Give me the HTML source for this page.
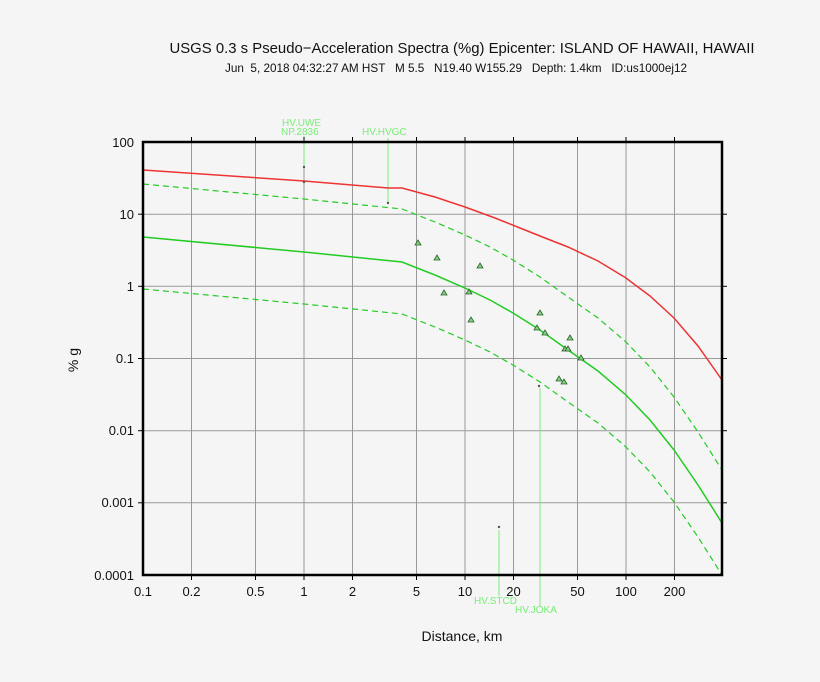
<!DOCTYPE html>
<html><head><meta charset="utf-8"><style>
body{margin:0;background:#f5f5f5;}
svg{display:block;font-family:"Liberation Sans",sans-serif;}
</style></head><body>
<svg width="820" height="682" viewBox="0 0 820 682">
<rect width="820" height="682" fill="#f5f5f5"/>
<text x="462" y="53" font-size="15" text-anchor="middle" fill="#111" textLength="585" lengthAdjust="spacingAndGlyphs">USGS 0.3 s Pseudo−Acceleration Spectra (%g) Epicenter: ISLAND OF HAWAII, HAWAII</text>
<text x="456" y="72" font-size="12" text-anchor="middle" fill="#111" style="white-space:pre" textLength="462" lengthAdjust="spacingAndGlyphs">Jun  5, 2018 04:32:27 AM HST   M 5.5   N19.40 W155.29   Depth: 1.4km   ID:us1000ej12</text>
<g stroke="#999" stroke-width="1">
<line x1="191.5" y1="142" x2="191.5" y2="575"/><line x1="255.5" y1="142" x2="255.5" y2="575"/>
<line x1="304" y1="142" x2="304" y2="575"/><line x1="352.5" y1="142" x2="352.5" y2="575"/>
<line x1="416.5" y1="142" x2="416.5" y2="575"/><line x1="465" y1="142" x2="465" y2="575"/>
<line x1="513.5" y1="142" x2="513.5" y2="575"/><line x1="577.5" y1="142" x2="577.5" y2="575"/>
<line x1="626" y1="142" x2="626" y2="575"/><line x1="674.5" y1="142" x2="674.5" y2="575"/>
<line x1="143" y1="214.2" x2="722" y2="214.2"/><line x1="143" y1="286.3" x2="722" y2="286.3"/>
<line x1="143" y1="358.5" x2="722" y2="358.5"/><line x1="143" y1="430.7" x2="722" y2="430.7"/>
<line x1="143" y1="502.8" x2="722" y2="502.8"/>
</g>
<g stroke="#7e7" stroke-width="1">
<line x1="304" y1="136" x2="304" y2="167"/><line x1="388" y1="138" x2="388" y2="203"/>
<line x1="499" y1="530" x2="499" y2="596"/><line x1="540" y1="388" x2="540" y2="606"/>
</g>
<g font-size="10" fill="#7e7">
<text x="282" y="126">HV.UWE</text><text x="281" y="135">NP.2836</text>
<text x="362" y="135">HV.HVGC</text>
<text x="474" y="604">HV.STCD</text><text x="515" y="613">HV.JOKA</text>
</g>
<polyline fill="none" stroke="#e33" stroke-width="1.5" points="143,170 304,181 388,188 402,188 435,197 465,207 495,218 520,228 545,238 568,247 598,261 626,278 650,296 674,318 698,346 722,380"/>
<polyline fill="none" stroke="#2c2" stroke-width="1.5" points="143,237 304,252 402,262 435,275 465,288 490,300 513,313 540,330 568,350 598,371 626,395 650,420 674,450 698,485 722,523"/>
<polyline fill="none" stroke="#2c2" stroke-width="1.2" stroke-dasharray="6,4" points="143,184 304,199 402,209 435,222 465,235 490,247 513,260 540,277 568,297 598,318 626,342 650,367 674,397 698,432 722,470"/>
<polyline fill="none" stroke="#2c2" stroke-width="1.2" stroke-dasharray="6,4" points="143,289 304,304 402,314 435,327 465,340 490,352 513,365 540,382 568,402 598,423 626,447 650,472 674,502 698,537 722,575"/>
<g fill="#8c8" stroke="#262" stroke-width="0.8">
<path d="M418,240l3,5h-6z"/><path d="M437,255l3,5h-6z"/><path d="M444,290l3,5h-6z"/>
<path d="M469,289l3,5h-6z"/><path d="M471,317l3,5h-6z"/><path d="M480,263l3,5h-6z"/>
<path d="M540,310l3,5h-6z"/><path d="M537,325l3,5h-6z"/><path d="M545,330l3,5h-6z"/>
<path d="M570,335l3,5h-6z"/><path d="M565,346l3,5h-6z"/><path d="M568,346l3,5h-6z"/>
<path d="M581,355l3,5h-6z"/><path d="M559,376l3,5h-6z"/><path d="M564,379l3,5h-6z"/>
</g>
<g fill="#555"><circle cx="304" cy="167" r="1.2"/><circle cx="304" cy="182" r="1.2"/><circle cx="388" cy="203" r="1.2"/><circle cx="499" cy="527" r="1.2"/><circle cx="539" cy="386" r="1.2"/></g>
<rect x="143" y="142" width="579" height="433" fill="none" stroke="#000" stroke-width="2.5"/>
<g stroke="#000" stroke-width="1">
<line x1="191.5" y1="137" x2="191.5" y2="142"/><line x1="255.5" y1="137" x2="255.5" y2="142"/><line x1="304" y1="137" x2="304" y2="142"/><line x1="352.5" y1="137" x2="352.5" y2="142"/><line x1="416.5" y1="137" x2="416.5" y2="142"/><line x1="465" y1="137" x2="465" y2="142"/><line x1="513.5" y1="137" x2="513.5" y2="142"/><line x1="577.5" y1="137" x2="577.5" y2="142"/><line x1="626" y1="137" x2="626" y2="142"/><line x1="674.5" y1="137" x2="674.5" y2="142"/>
<line x1="191.5" y1="575" x2="191.5" y2="580"/><line x1="255.5" y1="575" x2="255.5" y2="580"/><line x1="304" y1="575" x2="304" y2="580"/><line x1="352.5" y1="575" x2="352.5" y2="580"/><line x1="416.5" y1="575" x2="416.5" y2="580"/><line x1="465" y1="575" x2="465" y2="580"/><line x1="513.5" y1="575" x2="513.5" y2="580"/><line x1="577.5" y1="575" x2="577.5" y2="580"/><line x1="626" y1="575" x2="626" y2="580"/><line x1="674.5" y1="575" x2="674.5" y2="580"/>
<line x1="138" y1="214.2" x2="143" y2="214.2"/><line x1="138" y1="286.3" x2="143" y2="286.3"/><line x1="138" y1="358.5" x2="143" y2="358.5"/><line x1="138" y1="430.7" x2="143" y2="430.7"/><line x1="138" y1="502.8" x2="143" y2="502.8"/>
<line x1="722" y1="214.2" x2="727" y2="214.2"/><line x1="722" y1="286.3" x2="727" y2="286.3"/><line x1="722" y1="358.5" x2="727" y2="358.5"/><line x1="722" y1="430.7" x2="727" y2="430.7"/><line x1="722" y1="502.8" x2="727" y2="502.8"/>
</g>
<g font-size="13" fill="#111" text-anchor="end">
<text x="134" y="147">100</text><text x="134" y="219">10</text><text x="134" y="291">1</text><text x="134" y="363">0.1</text><text x="134" y="435">0.01</text><text x="134" y="507">0.001</text><text x="134" y="580">0.0001</text>
</g>
<g font-size="13" fill="#111" text-anchor="middle">
<text x="143" y="596">0.1</text><text x="191.5" y="596">0.2</text><text x="255.5" y="596">0.5</text><text x="304" y="596">1</text><text x="352.5" y="596">2</text><text x="416.5" y="596">5</text><text x="465" y="596">10</text><text x="513.5" y="596">20</text><text x="577.5" y="596">50</text><text x="626" y="596">100</text><text x="674.5" y="596">200</text>
</g>
<text x="462" y="641" font-size="14" text-anchor="middle" fill="#111">Distance, km</text>
<text x="78" y="360" font-size="14" text-anchor="middle" fill="#111" transform="rotate(-90 78 360)">% g</text>
</svg>
</body></html>
